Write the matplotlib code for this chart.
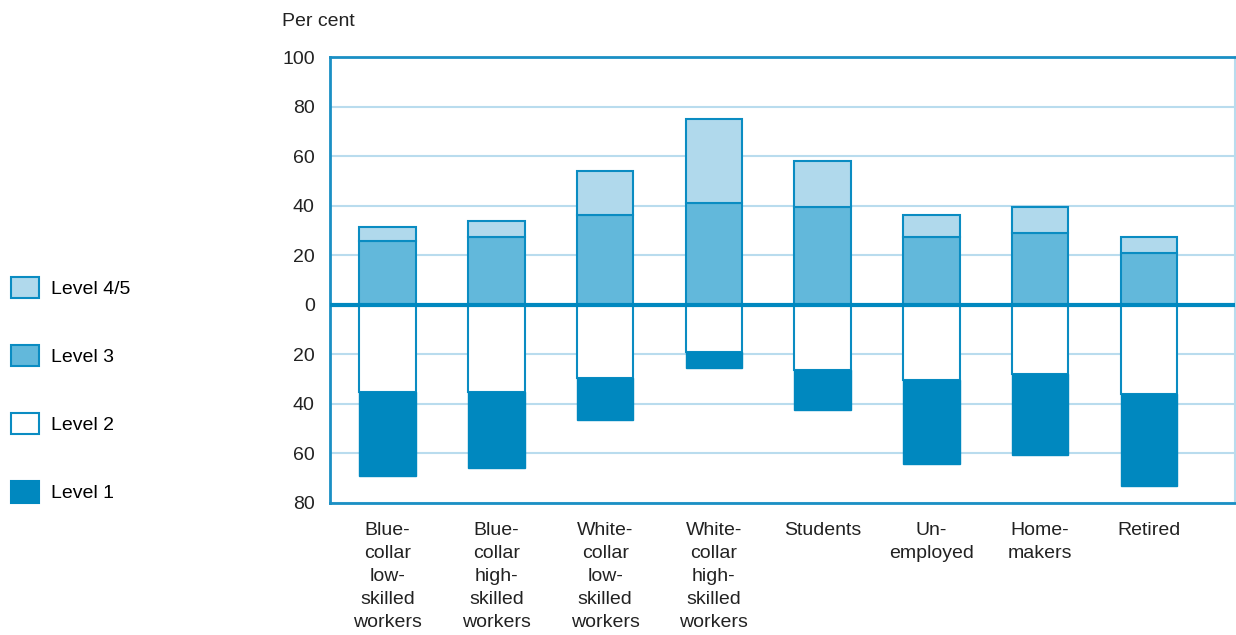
import matplotlib
matplotlib.use("Agg")
import matplotlib.pyplot as plt
from matplotlib.patches import Patch
from matplotlib.ticker import FuncFormatter, MultipleLocator

plt.rcParams['font.family'] = ['Liberation Sans Narrow', 'Liberation Sans', 'DejaVu Sans']

# categories and per cent by literacy level (levels 1-2 drawn below zero)
categories = ["Blue-\ncollar\nlow-\nskilled\nworkers",
              "Blue-\ncollar\nhigh-\nskilled\nworkers",
              "White-\ncollar\nlow-\nskilled\nworkers",
              "White-\ncollar\nhigh-\nskilled\nworkers",
              "Students", "Un-\nemployed", "Home-\nmakers", "Retired"]
level3 = [25.8, 27.5, 36.3, 41.2, 39.4, 27.5, 29.1, 20.9]
level45 = [5.6, 6.4, 17.8, 33.9, 18.7, 8.8, 10.3, 6.6]
level2 = [35.2, 35.2, 29.6, 19.1, 26.4, 30.3, 28.0, 36.1]
level1 = [33.8, 30.6, 16.8, 6.3, 15.9, 33.8, 32.8, 37.0]

C45 = "#b0d9ec"
C3 = "#62b8db"
C1 = "#0088bf"
EDGE = "#0a8cc2"
TXT = "#222222"

fig = plt.figure(figsize=(12.36, 6.35), dpi=100)
ax = fig.add_axes([0.267, 0.208, 0.732, 0.702])

x = list(range(len(categories)))
w = 0.52
ax.bar(x, level3, w, color=C3, edgecolor=EDGE, linewidth=1.5, zorder=3)
ax.bar(x, level45, w, bottom=level3, color=C45, edgecolor=EDGE, linewidth=1.5, zorder=3)
ax.bar(x, [-v for v in level2], w, color="white", edgecolor=EDGE, linewidth=1.5, zorder=3)
ax.bar(x, [-v for v in level1], w, bottom=[-v for v in level2], color=C1,
       edgecolor=C1, linewidth=1, zorder=3)

ax.axhline(0, color=C1, lw=3, zorder=4)

ax.set_xlim(-0.53, 7.79)
ax.set_ylim(-80, 100)
ax.yaxis.set_major_locator(MultipleLocator(20))
ax.yaxis.set_major_formatter(FuncFormatter(lambda v, p: "%d" % abs(v)))
ax.yaxis.grid(True, color="#b9dcee", lw=1.5, zorder=0)
ax.set_axisbelow(True)
ax.tick_params(axis="y", length=0, labelsize=14, pad=11, labelcolor=TXT)
ax.set_xticks(x)
ax.set_xticklabels(categories, fontsize=14, linespacing=1.45, color=TXT)
ax.tick_params(axis="x", length=0, pad=14)

for s in ["left", "top", "bottom"]:
    ax.spines[s].set_color("#1a8fc4")
    ax.spines[s].set_linewidth(2)
ax.spines["right"].set_color("#b9dcee")
ax.spines["right"].set_linewidth(1.5)

fig.text(282 / 1236, 1 - 22 / 635, "Per cent", fontsize=14, va="center", color=TXT)

handles = [Patch(facecolor=C45, edgecolor=EDGE, lw=1.5),
           Patch(facecolor=C3, edgecolor=EDGE, lw=1.5),
           Patch(facecolor="white", edgecolor=EDGE, lw=1.5),
           Patch(facecolor=C1, edgecolor=C1, lw=1.5)]
fig.legend(handles, ["Level 4/5", "Level 3", "Level 2", "Level 1"],
           loc="upper left", bbox_to_anchor=(-0.002, 1 - 263 / 635), frameon=False,
           fontsize=14, handlelength=1.45, handleheight=1.3, handletextpad=0.6,
           labelspacing=2.42, borderaxespad=0.3)

fig.savefig("out.png", dpi=100)
